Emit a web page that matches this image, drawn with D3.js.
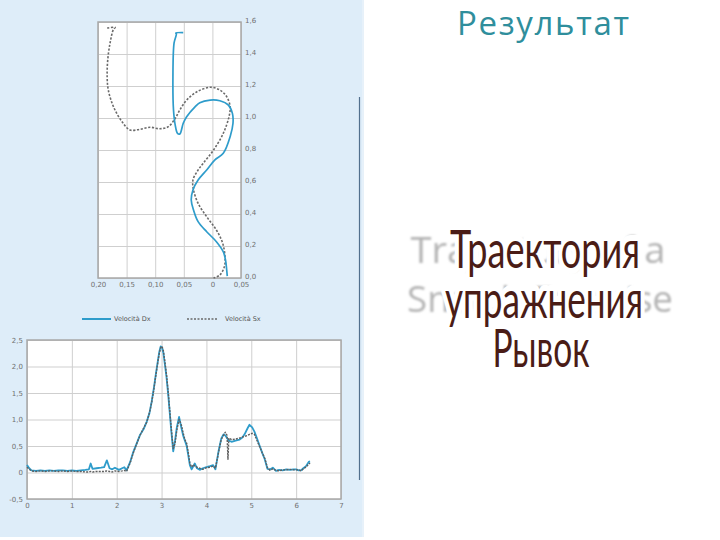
<!DOCTYPE html>
<html><head><meta charset="utf-8">
<script src="https://cdn.jsdelivr.net/npm/d3@7"></script>
<style>html,body{margin:0;padding:0;background:#fff;}svg{display:block;}</style>
</head><body>
<svg id="c" width="720" height="540"></svg>
<script>
// ---- Trajectory chart (top) ----
const trajXTicks = [0.20, 0.15, 0.10, 0.05, 0, -0.05];
const trajXLabels = ["0,20", "0,15", "0,10", "0,05", "0", "0,05"];
const trajYTicks = [0, 0.2, 0.4, 0.6, 0.8, 1.0, 1.2, 1.4, 1.6];
const trajYLabels = ["0,0", "0,2", "0,4", "0,6", "0,8", "1,0", "1,2", "1,4", "1,6"];
const trajDxX = [0.051,0.064,0.063,0.067,0.069,0.068,0.065,0.061,0.057,0.051,0.045,0.030,0.022,0.004,-0.013,-0.028,-0.035,-0.036,-0.031,-0.019,-0.004,0.010,0.025,0.034,0.037,0.033,0.025,0.010,-0.007,-0.019,-0.023,-0.025,-0.026];
const trajDxY = [1.534,1.531,1.525,1.469,1.258,1.050,0.956,0.904,0.900,0.967,1.008,1.071,1.096,1.112,1.108,1.081,1.029,0.967,0.883,0.779,0.737,0.675,0.612,0.550,0.487,0.425,0.352,0.289,0.227,0.164,0.112,0.050,0.012];
const trajSxX = [0.184,0.170,0.173,0.179,0.183,0.184,0.182,0.173,0.158,0.144,0.127,0.109,0.092,0.077,0.065,0.057,0.045,0.027,0.004,-0.013,-0.025,-0.031,-0.029,-0.019,-0.002,0.016,0.025,0.034,0.033,0.025,0.010,-0.007,-0.018,-0.022,-0.021,-0.013,-0.002];
const trajSxY = [1.562,1.566,1.554,1.467,1.362,1.258,1.175,1.071,0.977,0.925,0.929,0.942,0.933,0.946,0.998,1.050,1.112,1.164,1.192,1.175,1.133,1.071,1.008,0.904,0.800,0.717,0.675,0.612,0.550,0.467,0.383,0.300,0.217,0.133,0.071,0.019,0.000];
const legendLabels = ["Velocità Dx", "Velocità Sx"];

// ---- Velocity time chart (bottom) ----
const velXTicks = [0,1,2,3,4,5,6,7];
const velYTicks = [-0.5,0,0.5,1.0,1.5,2.0,2.5];
const velYLabels = ["-0,5","0","0,5","1,0","1,5","2,0","2,5"];
const velT  = [0.00,0.05,0.10,0.20,0.30,0.40,0.50,0.60,0.70,0.80,0.90,1.00,1.10,1.20,1.30,1.38,1.42,1.46,1.55,1.65,1.72,1.78,1.84,1.90,1.96,2.05,2.12,2.17,2.22,2.30,2.37,2.45,2.52,2.60,2.67,2.73,2.78,2.83,2.87,2.92,2.95,2.98,3.01,3.04,3.08,3.11,3.15,3.18,3.22,3.26,3.30,3.34,3.39,3.44,3.48,3.52,3.56,3.60,3.63,3.67,3.71,3.74,3.79,3.85,3.92,4.00,4.08,4.15,4.20,4.27,4.33,4.38,4.42,4.46,4.48,4.50,4.56,4.65,4.74,4.80,4.85,4.92,4.96,5.02,5.07,5.12,5.18,5.24,5.30,5.36,5.42,5.48,5.55,5.62,5.70,5.78,5.86,5.94,6.00,6.06,6.11,6.16,6.22,6.28,6.31];
const velDx = [0.14,0.08,0.04,0.03,0.04,0.03,0.04,0.03,0.04,0.04,0.03,0.04,0.03,0.04,0.05,0.06,0.17,0.07,0.08,0.09,0.10,0.23,0.08,0.06,0.09,0.05,0.08,0.10,0.04,0.20,0.39,0.56,0.71,0.82,0.96,1.12,1.34,1.60,1.84,2.12,2.28,2.38,2.36,2.26,2.00,1.80,1.45,1.15,0.75,0.40,0.60,0.85,1.05,0.85,0.70,0.60,0.50,0.30,0.14,0.06,0.12,0.17,0.08,0.05,0.08,0.10,0.12,0.14,0.06,0.40,0.64,0.72,0.70,0.65,0.62,0.60,0.58,0.60,0.62,0.66,0.72,0.84,0.90,0.85,0.77,0.66,0.52,0.38,0.25,0.07,0.06,0.09,0.03,0.05,0.04,0.06,0.05,0.06,0.06,0.04,0.04,0.08,0.12,0.20,0.21];
const velSx = [0.10,0.06,0.03,0.02,0.03,0.02,0.03,0.03,0.02,0.03,0.02,0.03,0.02,0.02,0.01,0.01,0.02,0.01,0.02,0.02,0.02,0.03,0.02,0.01,0.03,0.02,0.03,0.04,0.02,0.18,0.37,0.55,0.70,0.84,0.95,1.13,1.32,1.58,1.82,2.10,2.25,2.36,2.38,2.30,2.05,1.85,1.50,1.20,0.80,0.45,0.55,0.80,1.00,0.90,0.75,0.62,0.55,0.35,0.18,0.10,0.15,0.12,0.10,0.08,0.06,0.09,0.10,0.12,0.08,0.38,0.62,0.70,0.76,0.70,0.25,0.65,0.62,0.63,0.65,0.67,0.68,0.70,0.72,0.74,0.72,0.62,0.50,0.38,0.27,0.09,0.04,0.07,0.04,0.03,0.05,0.05,0.06,0.05,0.05,0.05,0.03,0.07,0.10,0.16,0.18];

// ---- Slide text ----
const titleText = "Результат";
const ghostLines = ["Trajectory of a", "Snatch Exercise"];
const mainLines = ["Траектория", "упражнения", "Рывок"];

const svg = d3.select("#c");
const blue = "#2e9ccb", gray = "#5e5e5e";

// panel backgrounds
svg.append("rect").attr("x",0).attr("y",0).attr("width",362).attr("height",537).attr("fill","#deedf9");
svg.append("line").attr("x1",359.5).attr("x2",359.5).attr("y1",97).attr("y2",480).attr("stroke","#52708e").attr("stroke-width",1.2);
svg.append("line").attr("x1",363).attr("x2",363).attr("y1",0).attr("y2",537).attr("stroke","#cfe3f4").attr("stroke-width",1);

// ===== top chart =====
const tx = d3.scaleLinear().domain([0.20,-0.05]).range([98,241]);
const ty = d3.scaleLinear().domain([0,1.6]).range([278,22]);
const g1 = svg.append("g");
g1.append("rect").attr("x",98).attr("y",22).attr("width",143).attr("height",256).attr("fill","#fff");
g1.append("g").attr("transform","translate(0,278)")
  .call(d3.axisBottom(tx).tickValues(trajXTicks).tickSize(-256).tickFormat((d,i)=>trajXLabels[i]))
  .call(g=>{g.select(".domain").remove();g.selectAll(".tick line").attr("stroke","#cfcfcf");
    g.selectAll("text").attr("fill","#707070").attr("font-size",7).attr("font-family","DejaVu Sans").attr("dy","0.9em");});
g1.append("g").attr("transform","translate(241,0)")
  .call(d3.axisRight(ty).tickValues(trajYTicks).tickSize(-143).tickFormat((d,i)=>trajYLabels[i]))
  .call(g=>{g.select(".domain").remove();g.selectAll(".tick line").attr("stroke","#cfcfcf");
    g.selectAll("text").attr("fill","#707070").attr("font-size",7).attr("font-family","DejaVu Sans").attr("x",4).attr("dy","0.1em");});
g1.append("rect").attr("x",98).attr("y",22).attr("width",143).attr("height",256).attr("fill","none").attr("stroke","#a8a8a8").attr("stroke-width",1.5);
const tline = d3.line().x(d=>tx(d[0])).y(d=>ty(d[1])).curve(d3.curveCatmullRom);
g1.append("path").datum(trajSxX.map((v,i)=>[v,trajSxY[i]])).attr("d",tline)
  .attr("fill","none").attr("stroke","#6a6a6a").attr("stroke-width",1.6).attr("stroke-dasharray","2.2,1.6");
g1.append("path").datum(trajDxX.map((v,i)=>[v,trajDxY[i]])).attr("d",tline)
  .attr("fill","none").attr("stroke",blue).attr("stroke-width",1.7);

// legend
const lg = svg.append("g").attr("font-family","DejaVu Sans").attr("font-size",6.5).attr("fill","#555");
lg.append("line").attr("x1",82).attr("x2",111).attr("y1",319).attr("y2",319).attr("stroke",blue).attr("stroke-width",2);
lg.append("text").attr("x",114).attr("y",321).text(legendLabels[0]);
lg.append("line").attr("x1",187).attr("x2",217).attr("y1",319).attr("y2",319).attr("stroke","#6a6a6a").attr("stroke-width",1.5).attr("stroke-dasharray","2,1.5");
lg.append("text").attr("x",225).attr("y",321).text(legendLabels[1]);

// ===== bottom chart =====
const bx = d3.scaleLinear().domain([0,7]).range([27,341]);
const by = d3.scaleLinear().domain([-0.5,2.5]).range([499,340]);
const g2 = svg.append("g");
g2.append("rect").attr("x",27).attr("y",340).attr("width",314).attr("height",159).attr("fill","#fff");
g2.append("g").attr("transform","translate(0,499)")
  .call(d3.axisBottom(bx).tickValues(velXTicks).tickSize(-159).tickFormat(d3.format("d")))
  .call(g=>{g.select(".domain").remove();g.selectAll(".tick line").attr("stroke","#cfcfcf");
    g.selectAll("text").attr("fill","#707070").attr("font-size",7).attr("font-family","DejaVu Sans").attr("dy","0.9em");});
g2.append("g").attr("transform","translate(27,0)")
  .call(d3.axisLeft(by).tickValues(velYTicks).tickSize(-314).tickFormat((d,i)=>velYLabels[i]))
  .call(g=>{g.select(".domain").remove();g.selectAll(".tick line").attr("stroke","#cfcfcf");
    g.selectAll("text").attr("fill","#707070").attr("font-size",7).attr("font-family","DejaVu Sans").attr("x",-4);});
g2.append("rect").attr("x",27).attr("y",340).attr("width",314).attr("height",159).attr("fill","none").attr("stroke","#a8a8a8").attr("stroke-width",1.5);
const vline = d3.line().x(d=>bx(d[0])).y(d=>by(d[1]));
g2.append("path").datum(velT.map((t,i)=>[t,velDx[i]])).attr("d",vline)
  .attr("fill","none").attr("stroke",blue).attr("stroke-width",1.8).attr("stroke-linejoin","round");
g2.append("path").datum(velT.map((t,i)=>[t,velSx[i]])).attr("d",vline)
  .attr("fill","none").attr("stroke",gray).attr("stroke-width",1.4).attr("stroke-dasharray","2,1.2").attr("stroke-linejoin","round");

// ===== right side text =====
svg.append("text").attr("x",543).attr("y",35).attr("text-anchor","middle")
  .attr("font-family","Open Sans").attr("font-size",33).attr("fill","#2f8e9c")
  .attr("textLength",172).attr("lengthAdjust","spacing").text(titleText);

const defs = svg.append("defs");
defs.append("filter").attr("id","blur").append("feGaussianBlur").attr("stdDeviation",0.8);
const ghostY = [263, 312], ghostX = [538, 540], ghostW = [255, 266];
ghostLines.forEach((s,i)=>{
  svg.append("text").attr("x",ghostX[i]).attr("y",ghostY[i]).attr("text-anchor","middle")
    .attr("font-family","Open Sans").attr("font-size",37).attr("fill","#b4b4b4").attr("filter","url(#blur)")
    .attr("textLength",ghostW[i]).attr("lengthAdjust","spacingAndGlyphs").text(s);
});
const mainY = [268, 318, 367], mainX = [545, 544, 541], mainW = [190, 198, 97];
mainLines.forEach((s,i)=>{
  svg.append("text").attr("x",mainX[i]).attr("y",mainY[i]).attr("text-anchor","middle")
    .attr("font-family","Lato").attr("font-size",53).attr("fill","#4a1c16")
    .attr("stroke","#fff").attr("stroke-width",12).attr("paint-order","stroke").attr("stroke-linejoin","round")
    .attr("textLength",mainW[i]).attr("lengthAdjust","spacingAndGlyphs").text(s);
});
</script>
</body></html>
